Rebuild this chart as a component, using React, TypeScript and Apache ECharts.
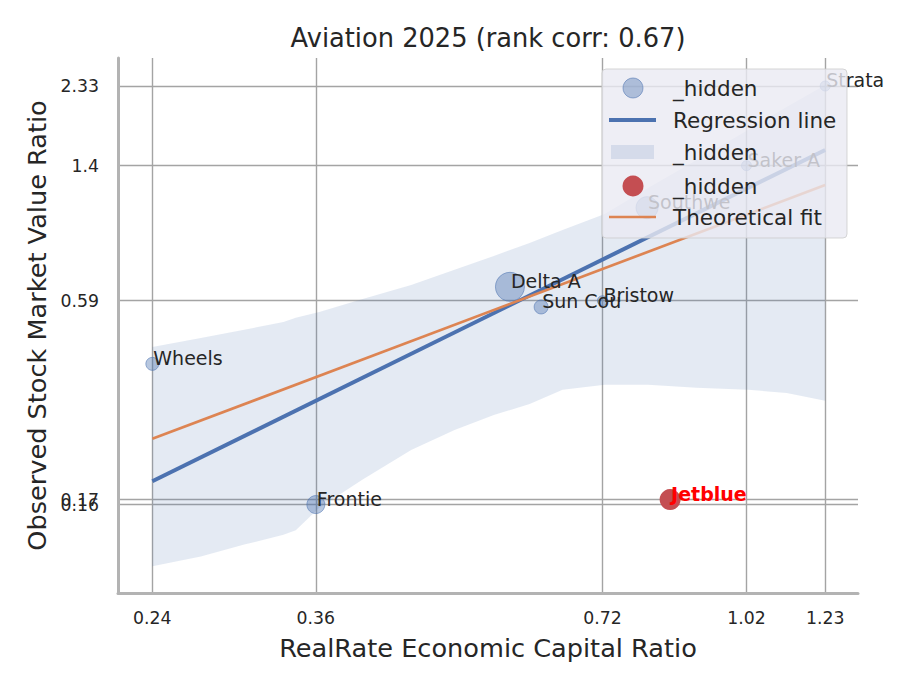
import React, { useEffect, useRef } from 'react';
import * as echarts from 'echarts';

// peer companies (bubble = relative size)
const companies = ['Wheels', 'Frontie', 'Delta A', 'Sun Cou', 'Bristow', 'Southwe', 'Saker A', 'Strata'];
const capitalRatio = [0.24, 0.357, 0.572, 0.617, 0.716, 0.798, 1.016, 1.23];
const marketRatio = [0.394, 0.1602, 0.645, 0.567, 0.59, 1.07, 1.4, 2.33];
const bubbleSize = [13, 18, 29, 14, 10, 22, 10, 10];

// highlighted company
const focusName = 'Jetblue';
const focusX = 0.844;
const focusY = 0.1654;
const focusSize = 21;

// tick positions are the companies' own values, shown rounded to 2 decimals
const xTicks = [0.24, 0.357, 0.716, 1.016, 1.23];
const yTicks = [0.1602, 0.59, 1.4, 2.33];
const yTicksExtra = [0.1654];

// regression line and theoretical fit
const regX = [0.24, 1.23];
const regY = [0.186, 1.548];
const fitX = [0.24, 1.23];
const fitY = [0.244, 1.237];

// confidence band
const bandX = [0.24, 0.27, 0.3, 0.33, 0.34, 0.36, 0.4, 0.45, 0.5, 0.55, 0.6, 0.65, 0.72, 0.8, 0.9, 1.02, 1.12, 1.23];
const bandLo = [0.108, 0.115, 0.124, 0.132, 0.136, 0.157, 0.188, 0.227, 0.258, 0.284, 0.305, 0.334, 0.345, 0.345, 0.338, 0.334, 0.327, 0.311];
const bandHi = [0.439, 0.465, 0.49, 0.515, 0.529, 0.549, 0.597, 0.653, 0.719, 0.786, 0.854, 0.928, 1.028, 1.214, 1.452, 1.759, 2.038, 2.344];

const FONT = 'DejaVu Sans';
const TEXT = '#262626';
const BLUE = '#4c72b0';
const ORANGE = '#dd8452';
const RED = '#c44e52';
const GRID = '#a4a4a4';

const fmt = (v: number) => String(+Number(v).toFixed(2));

const App: React.FC = () => {
  const chartRef = useRef<HTMLDivElement>(null);

  useEffect(() => {
    if (!chartRef.current) return;
    const chart = echarts.init(chartRef.current, null, { renderer: 'svg' });

    const points = companies.map((name, i) => [capitalRatio[i], marketRatio[i], bubbleSize[i], name]);

    const labelStyle = {
      show: true,
      position: 'inside',
      align: 'left',
      verticalAlign: 'middle',
      offset: [1, -6],
      fontFamily: FONT,
      fontSize: 19,
      color: TEXT,
      textBorderWidth: 0,
      textBorderColor: 'transparent',
      opacity: 1,
      formatter: (p: any) => p.value[3],
    };

    const tickLabel = {
      formatter: fmt,
      showMinLabel: true,
      showMaxLabel: true,
      hideOverlap: false,
      fontFamily: FONT,
      fontSize: 17.3,
      color: TEXT,
    };

    const legendRows = ['_hidden', 'Regression line', '_hidden', '_hidden', 'Theoretical fit'];
    const rowY = [88, 120, 152, 186, 217];
    const top = { z: 100, zlevel: 1 };

    const option: any = {
      animation: false,
      backgroundColor: '#ffffff',
      title: {
        text: 'Aviation 2025 (rank corr: 0.67)',
        left: 488,
        top: 25,
        padding: 0,
        textAlign: 'center',
        textStyle: { fontFamily: FONT, fontSize: 25.7, fontWeight: 'normal', color: TEXT },
      },
      grid: { left: 118, right: 62, top: 58, bottom: 97 },
      xAxis: {
        type: 'log',
        min: 0.2208,
        max: 1.332,
        name: 'RealRate Economic Capital Ratio',
        nameLocation: 'middle',
        nameGap: 42,
        nameTextStyle: { fontFamily: FONT, fontSize: 25.6, color: TEXT },
        axisLine: { show: true, lineStyle: { color: '#b3b3b3', width: 3 } },
        axisTick: { show: false, customValues: xTicks },
        axisLabel: { ...tickLabel, customValues: xTicks, margin: 16 },
        splitLine: { show: true, lineStyle: { color: GRID, width: 1.4 } },
      },
      yAxis: [
        {
          type: 'log',
          min: 0.091,
          max: 2.787,
          name: 'Observed Stock Market Value Ratio',
          nameLocation: 'middle',
          nameGap: 66,
          nameTextStyle: { fontFamily: FONT, fontSize: 25.6, color: TEXT },
          axisLine: { show: true, lineStyle: { color: '#b3b3b3', width: 3 } },
          axisTick: { show: false, customValues: yTicks },
          axisLabel: { ...tickLabel, customValues: yTicks, margin: 19 },
          splitLine: { show: true, lineStyle: { color: GRID, width: 1.4 } },
        },
        {
          // second copy of the left axis, only for the 0.17 tick that sits on top of 0.16
          type: 'log',
          position: 'left',
          min: 0.091,
          max: 2.787,
          axisLine: { show: false },
          axisTick: { show: false, customValues: yTicksExtra },
          axisLabel: { ...tickLabel, customValues: yTicksExtra, margin: 19 },
          splitLine: { show: true, lineStyle: { color: GRID, width: 1.4 } },
        },
      ],
      series: [
        {
          name: 'band',
          type: 'custom',
          z: 1,
          silent: true,
          data: bandX.map((x, i) => [x, bandLo[i], bandHi[i]]),
          encode: { x: 0, y: [1, 2] },
          renderItem: (params: any, api: any) => {
            if (params.dataIndex !== 0) return null;
            const upper = bandX.map((x, i) => api.coord([x, bandHi[i]]));
            const lower = bandX.map((x, i) => api.coord([x, bandLo[i]])).reverse();
            return {
              type: 'polygon',
              shape: { points: upper.concat(lower) },
              style: { fill: 'rgba(76,114,176,0.15)' },
            };
          },
        },
        {
          name: 'peers',
          type: 'scatter',
          z: 2,
          data: points,
          symbolSize: (v: any) => v[2],
          itemStyle: { color: 'rgba(76,114,176,0.4)', borderColor: 'rgba(76,114,176,0.55)', borderWidth: 1, opacity: 1 },
        },
        {
          name: 'focus',
          type: 'scatter',
          z: 2,
          data: [[focusX, focusY, focusSize, focusName]],
          symbolSize: (v: any) => v[2],
          itemStyle: { color: RED, opacity: 1 },
        },
        {
          name: 'Regression line',
          type: 'line',
          z: 3,
          data: regX.map((x, i) => [x, regY[i]]),
          symbol: 'none',
          lineStyle: { color: BLUE, width: 4 },
        },
        {
          name: 'Theoretical fit',
          type: 'line',
          z: 3,
          data: fitX.map((x, i) => [x, fitY[i]]),
          symbol: 'none',
          lineStyle: { color: ORANGE, width: 2.7 },
        },
        {
          name: 'peer labels',
          type: 'scatter',
          z: 4,
          silent: true,
          data: points,
          symbolSize: 1,
          itemStyle: { color: 'rgba(0,0,0,0)' },
          label: labelStyle,
        },
        {
          name: 'focus label',
          type: 'scatter',
          z: 4,
          silent: true,
          data: [[focusX, focusY, focusSize, focusName]],
          symbolSize: 1,
          itemStyle: { color: 'rgba(0,0,0,0)' },
          label: { ...labelStyle, color: '#ff0000', fontWeight: 'bold' },
        },
      ],
      graphic: [
        {
          type: 'rect',
          ...top,
          shape: { x: 602, y: 69, width: 245, height: 169, r: 4 },
          style: { fill: 'rgba(234,234,242,0.8)', stroke: 'rgba(204,204,204,0.8)', lineWidth: 1 },
        },
        {
          type: 'circle',
          ...top,
          shape: { cx: 633, cy: rowY[0], r: 10 },
          style: { fill: 'rgba(76,114,176,0.4)', stroke: 'rgba(76,114,176,0.55)', lineWidth: 1 },
        },
        {
          type: 'line',
          ...top,
          shape: { x1: 609, y1: rowY[1], x2: 656, y2: rowY[1] },
          style: { stroke: BLUE, lineWidth: 4 },
        },
        {
          type: 'rect',
          ...top,
          shape: { x: 611, y: rowY[2] - 7, width: 43, height: 14 },
          style: { fill: 'rgba(76,114,176,0.15)' },
        },
        {
          type: 'circle',
          ...top,
          shape: { cx: 633, cy: rowY[3], r: 10.5 },
          style: { fill: RED },
        },
        {
          type: 'line',
          ...top,
          shape: { x1: 609, y1: rowY[4], x2: 656, y2: rowY[4] },
          style: { stroke: ORANGE, lineWidth: 2.7 },
        },
        ...legendRows.map((t, i) => ({
          type: 'text',
          ...top,
          x: 673,
          y: rowY[i],
          style: {
            text: t,
            fontFamily: FONT,
            fontSize: 21.5,
            fill: TEXT,
            verticalAlign: 'middle',
            align: 'left',
          },
        })),
      ],
    };

    chart.setOption(option);
    return () => {
      chart.dispose();
    };
  }, []);

  return <div ref={chartRef} style={{ width: 920, height: 690, margin: -8 }} />;
};

export default App;
